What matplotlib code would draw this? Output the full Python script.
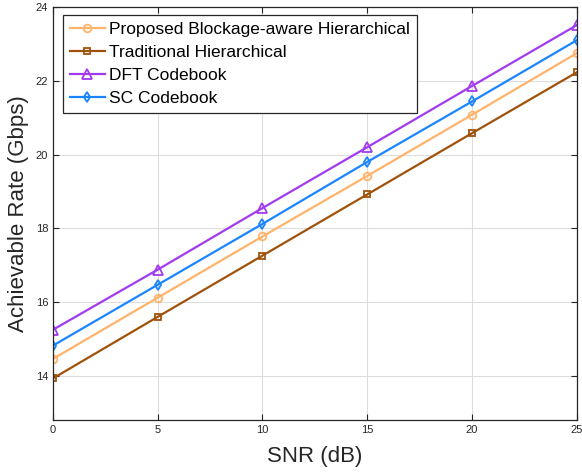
import numpy as np
import matplotlib.pyplot as plt

plt.rcParams['font.family'] = ['Liberation Sans', 'DejaVu Sans']

# Data
snr = [0, 5, 10, 15, 20, 25]
proposed = [14.46, 16.12, 17.78, 19.42, 21.08, 22.75]
traditional = [13.93, 15.60, 17.26, 18.92, 20.58, 22.23]
dft = [15.25, 16.88, 18.55, 20.20, 21.86, 23.51]
sc = [14.82, 16.47, 18.12, 19.80, 21.44, 23.10]

labels = ['Proposed Blockage-aware Hierarchical', 'Traditional Hierarchical',
          'DFT Codebook', 'SC Codebook']

fig = plt.figure(figsize=(5.82, 4.72), dpi=100)
ax = fig.add_axes([0.091, 0.110, 0.900, 0.875])

ax.plot(snr, proposed, '-o', color='#FFB36B', lw=1.6, ms=5.5, mfc='none', mew=1.3, label=labels[0])
ax.plot(snr, traditional, '-s', color='#A0520A', lw=1.6, ms=4.5, mfc='none', mew=1.3, label=labels[1])
ax.plot(snr, dft, '-^', color='#A23BF0', lw=1.6, ms=6.5, mfc='none', mew=1.3, label=labels[2])
ax.plot(snr, sc, '-d', color='#1A85FF', lw=1.6, ms=5.5, mfc='none', mew=1.3, label=labels[3])

ax.set_xlim(0, 25)
ax.set_ylim(12.8, 24)
ax.set_xticks([0, 5, 10, 15, 20, 25])
ax.set_yticks([14, 16, 18, 20, 22, 24])
ax.grid(True, color='#DDDDDD', lw=0.8)
ax.tick_params(direction='in', labelsize=8, top=True, right=True, colors='#262626', length=4)
for s in ax.spines.values():
    s.set_color('#262626')
    s.set_linewidth(0.9)

ax.set_xlabel('SNR (dB)', fontsize=16, color='#262626', labelpad=8)
ax.set_ylabel('Achievable Rate (Gbps)', fontsize=16, color='#262626', labelpad=5)

leg = ax.legend(loc='upper left', fontsize=12.5, fancybox=False, edgecolor='#262626',
                framealpha=1, handlelength=2.0, handletextpad=0.25, borderpad=0.4,
                labelspacing=0.45, borderaxespad=0, bbox_to_anchor=(0.019, 0.981))
leg.get_frame().set_linewidth(0.9)

fig.savefig('out.png', dpi=100)
